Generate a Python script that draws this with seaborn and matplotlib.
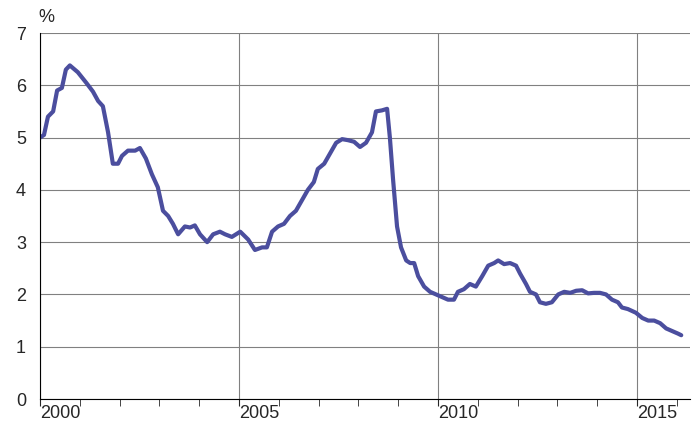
import matplotlib
matplotlib.use("Agg")
import matplotlib.pyplot as plt
import seaborn as sns
import pandas as pd
from matplotlib.ticker import MultipleLocator

years = [2000.00, 2000.10, 2000.20, 2000.33, 2000.43, 2000.55, 2000.65, 2000.75, 2000.95, 2001.16,
         2001.33, 2001.46, 2001.58, 2001.71, 2001.83, 2001.96, 2002.06, 2002.21, 2002.39, 2002.51,
         2002.66, 2002.81, 2002.96, 2003.09, 2003.22, 2003.34, 2003.47, 2003.64, 2003.77, 2003.89,
         2004.02, 2004.20, 2004.35, 2004.52, 2004.65, 2004.82, 2005.03, 2005.23, 2005.40, 2005.58,
         2005.70, 2005.83, 2005.98, 2006.13, 2006.28, 2006.43, 2006.58, 2006.73, 2006.88, 2006.98,
         2007.14, 2007.29, 2007.44, 2007.59, 2007.74, 2007.89, 2008.04, 2008.19, 2008.34, 2008.44,
         2008.59, 2008.72, 2008.79, 2008.87, 2008.97, 2009.07, 2009.20, 2009.30, 2009.40, 2009.50,
         2009.65, 2009.80, 2009.95, 2010.10, 2010.25, 2010.40, 2010.50, 2010.65, 2010.80, 2010.95,
         2011.11, 2011.26, 2011.41, 2011.51, 2011.66, 2011.81, 2011.96, 2012.06, 2012.21, 2012.31,
         2012.46, 2012.56, 2012.71, 2012.86, 2013.02, 2013.17, 2013.32, 2013.47, 2013.62, 2013.77,
         2013.92, 2014.07, 2014.22, 2014.37, 2014.52, 2014.62, 2014.77, 2014.97, 2015.13, 2015.28,
         2015.43, 2015.58, 2015.73, 2015.88, 2016.03, 2016.11]
rates = [5.00, 5.05, 5.40, 5.50, 5.90, 5.95, 6.30, 6.38, 6.25, 6.05,
         5.88, 5.70, 5.60, 5.10, 4.50, 4.50, 4.65, 4.75, 4.75, 4.80,
         4.60, 4.30, 4.05, 3.60, 3.50, 3.35, 3.15, 3.30, 3.28, 3.32,
         3.15, 3.00, 3.15, 3.20, 3.15, 3.10, 3.20, 3.05, 2.85, 2.90,
         2.90, 3.20, 3.30, 3.35, 3.50, 3.60, 3.80, 4.00, 4.15, 4.40,
         4.50, 4.70, 4.90, 4.97, 4.95, 4.92, 4.82, 4.90, 5.10, 5.50,
         5.52, 5.55, 5.00, 4.20, 3.30, 2.90, 2.65, 2.60, 2.60, 2.35,
         2.15, 2.05, 2.00, 1.95, 1.90, 1.90, 2.05, 2.10, 2.20, 2.15,
         2.35, 2.55, 2.60, 2.65, 2.58, 2.60, 2.55, 2.40, 2.20, 2.05,
         2.00, 1.85, 1.82, 1.85, 2.00, 2.05, 2.03, 2.07, 2.08, 2.02,
         2.03, 2.03, 2.00, 1.90, 1.85, 1.75, 1.72, 1.65, 1.55, 1.50,
         1.50, 1.45, 1.35, 1.30, 1.25, 1.22]
label_years = [2000, 2005, 2010, 2015]

df = pd.DataFrame({"year": years, "rate": rates})

sns.set_style("white")
plt.rcParams["font.family"] = ["Liberation Sans", "DejaVu Sans"]

fig = plt.figure(figsize=(6.99, 4.32), dpi=100)
ax = fig.add_axes([40 / 699, 33 / 432, 650 / 699, 366 / 432])
sns.lineplot(data=df, x="year", y="rate", ax=ax, color="#4B4E9E", linewidth=3)

ax.set_xlim(2000, 2016.33)
ax.set_ylim(0, 7)
ax.xaxis.set_major_locator(MultipleLocator(5))
ax.xaxis.set_minor_locator(MultipleLocator(1))
ax.yaxis.set_major_locator(MultipleLocator(1))
ax.grid(True, which="major", color="#808080", linewidth=0.8)
ax.set_axisbelow(True)
ax.set_xlabel("")
ax.set_ylabel("")
for s in ["top", "right"]:
    ax.spines[s].set_visible(False)
for s in ["left", "bottom"]:
    ax.spines[s].set_color("black")
    ax.spines[s].set_linewidth(0.8)
ax.tick_params(axis="x", which="both", direction="out", length=5, bottom=True,
               labelbottom=False)
ax.tick_params(axis="y", length=0, labelsize=13, pad=10)
for y in label_years:
    ax.text(y + 0.5, -0.04, str(y), transform=ax.get_xaxis_transform(),
            ha="center", va="center", fontsize=13)
ax.text(-0.002, 1.02, "%", transform=ax.transAxes, fontsize=13, ha="left", va="bottom")

fig.savefig("out.png", dpi=100)
